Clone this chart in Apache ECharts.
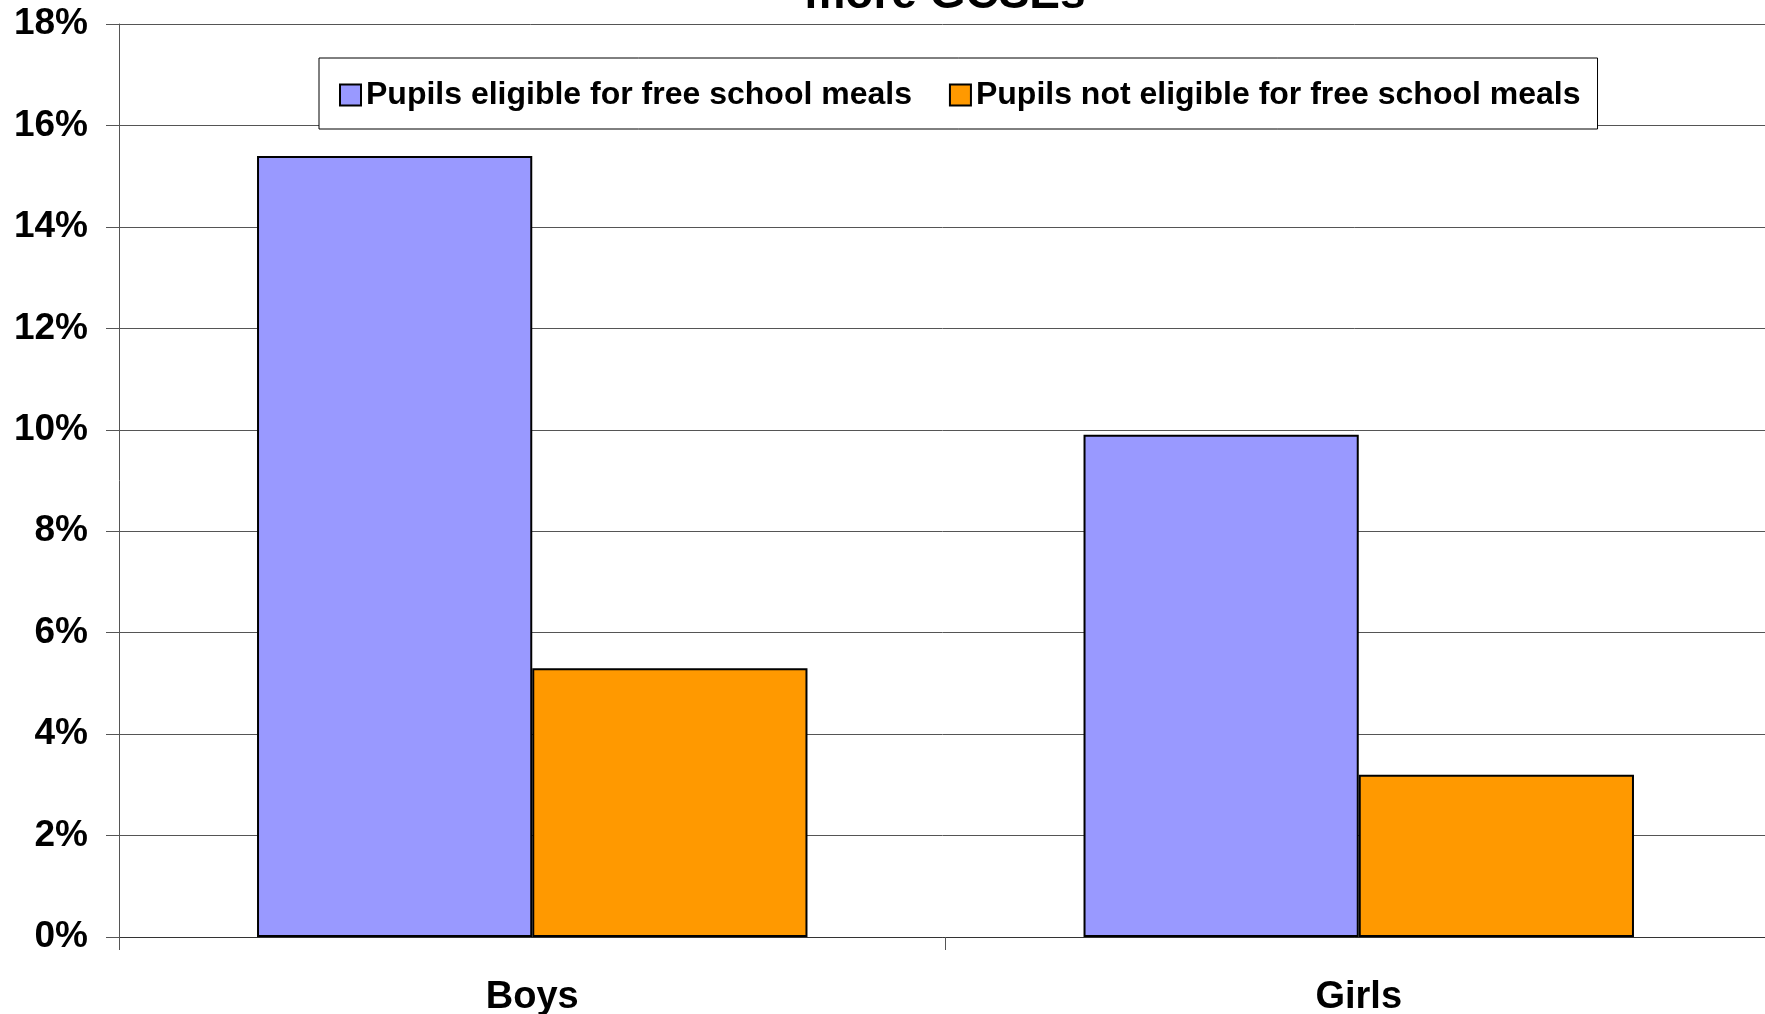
<!DOCTYPE html>
<html>
<head>
<meta charset="utf-8">
<script src="https://cdn.jsdelivr.net/npm/echarts@6/dist/echarts.min.js"></script>
<style>
  html, body { margin: 0; padding: 0; background: #fff; }
  #chart { width: 1765px; height: 1014px; }
</style>
</head>
<body>
<div id="chart"></div>
<script>
// values (percent of pupils)
var categories = ['Boys', 'Girls'];
var seriesNames = ['Pupils eligible for free school meals', 'Pupils not eligible for free school meals'];
var eligible = [15.4, 9.9];
var notEligible = [5.3, 3.2];
var yTicks = { min: 0, max: 18, step: 2 };
var titleText = 'more GCSEs';

var font = 'Liberation Sans, Arial, sans-serif';
var myChart = echarts.init(document.getElementById('chart'));

var option = {
  backgroundColor: '#fff',
  animation: false,
  graphic: [{
    type: 'text',
    x: 945,
    y: 18,
    style: {
      text: titleText,
      font: 'bold 46px ' + font,
      fill: '#000',
      align: 'center',
      verticalAlign: 'bottom'
    }
  }],
  legend: {
    data: seriesNames,
    left: 319,
    top: 58,
    padding: [21, 17, 18, 20],
    itemGap: 37,
    itemWidth: 21,
    itemHeight: 21,
    icon: 'rect',
    borderColor: '#000',
    borderWidth: 1,
    backgroundColor: '#fff',
    textStyle: { fontFamily: font, fontWeight: 'bold', fontSize: 32, color: '#000' }
  },
  grid: { left: 119, right: -7, top: 24, bottom: 77, outerBoundsMode: 'none' },
  xAxis: {
    type: 'category',
    data: categories,
    axisLine: { lineStyle: { color: '#333', width: 1 } },
    axisTick: { show: true, length: 13, lineStyle: { color: '#555' } },
    axisLabel: { margin: 42, fontFamily: font, fontWeight: 'bold', fontSize: 38, color: '#000' }
  },
  yAxis: {
    type: 'value',
    min: yTicks.min,
    max: yTicks.max,
    interval: yTicks.step,
    axisLine: { show: true, lineStyle: { color: '#555', width: 1 } },
    axisTick: { show: true, length: 13, lineStyle: { color: '#555' } },
    axisLabel: { margin: 31, formatter: '{value}%', fontFamily: font, fontWeight: 'bold', fontSize: 37, color: '#000' },
    splitLine: { lineStyle: { color: '#555', width: 1 } }
  },
  series: [
    {
      name: seriesNames[0],
      type: 'bar',
      data: eligible,
      barGap: '0%',
      barCategoryGap: '33.4%',
      itemStyle: { color: '#9999FF', borderColor: '#000', borderWidth: 2 }
    },
    {
      name: seriesNames[1],
      type: 'bar',
      data: notEligible,
      barGap: '0%',
      barCategoryGap: '33.4%',
      itemStyle: { color: '#FF9900', borderColor: '#000', borderWidth: 2 }
    }
  ]
};

myChart.setOption(option);
</script>
</body>
</html>
